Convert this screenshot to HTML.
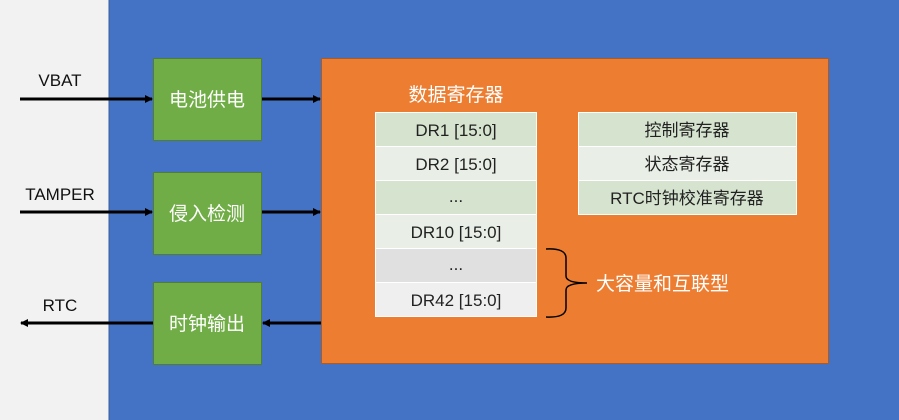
<!DOCTYPE html>
<html><head><meta charset="utf-8"><style>
html,body{margin:0;padding:0;width:899px;height:420px;overflow:hidden;background:#f2f2f2}
svg{display:block}
text{font-family:"Liberation Sans","Noto Sans CJK SC",sans-serif}
</style></head><body>
<svg width="899" height="420" xmlns="http://www.w3.org/2000/svg">
<defs>
<marker id="ar" markerWidth="8" markerHeight="8" refX="7" refY="4" orient="auto" markerUnits="userSpaceOnUse">
<path d="M0,0 L8,4 L0,8 z" fill="#000"/></marker>
</defs>
<rect x="0" y="0" width="899" height="420" fill="#f2f2f2"/>
<rect x="109" y="0" width="790" height="420" fill="#4472c4"/>
<line x1="109" y1="0" x2="109" y2="420" stroke="#3a5f9e" stroke-width="1"/>
<!-- green boxes -->
<g fill="#70ad47" stroke="#507e32" stroke-width="1">
<rect x="153.5" y="58.5" width="108" height="82"/>
<rect x="153.5" y="172.5" width="108" height="82"/>
<rect x="153.5" y="282.5" width="108" height="82"/>
</g>
<g fill="#fff" font-size="19" text-anchor="middle">
<text x="207" y="106">电池供电</text>
<text x="207" y="220">侵入检测</text>
<text x="207" y="330">时钟输出</text>
</g>
<!-- orange -->
<rect x="321.5" y="58.5" width="507" height="305" fill="#ed7d31" stroke="#ae5a21" stroke-width="1"/>
<!-- arrows -->
<g stroke="#000" stroke-width="3">
<line x1="20" y1="99" x2="152" y2="99" marker-end="url(#ar)"/>
<line x1="262" y1="99" x2="320" y2="99" marker-end="url(#ar)"/>
<line x1="20" y1="212" x2="152" y2="212" marker-end="url(#ar)"/>
<line x1="262" y1="212" x2="320" y2="212" marker-end="url(#ar)"/>
<line x1="153" y1="323" x2="21" y2="323" marker-end="url(#ar)"/>
<line x1="321" y1="323" x2="263" y2="323" marker-end="url(#ar)"/>
</g>
<g fill="#111" font-size="17" text-anchor="middle">
<text x="60" y="86">VBAT</text>
<text x="60" y="200">TAMPER</text>
<text x="60" y="311">RTC</text>
</g>
<text x="456" y="101" fill="#fff" font-size="19" text-anchor="middle">数据寄存器</text>
<!-- data table -->
<g stroke="#fff" stroke-width="1">
<rect x="375.5" y="112.5" width="161" height="34" fill="#d5e3cf"/>
<rect x="375.5" y="146.5" width="161" height="34" fill="#e9efe6"/>
<rect x="375.5" y="180.5" width="161" height="34" fill="#d5e3cf"/>
<rect x="375.5" y="214.5" width="161" height="34" fill="#e9efe6"/>
<rect x="375.5" y="248.5" width="161" height="34" fill="#e0e0e0"/>
<rect x="375.5" y="282.5" width="161" height="34" fill="#efefef"/>
<rect x="578.5" y="112.5" width="218" height="34" fill="#d5e3cf"/>
<rect x="578.5" y="146.5" width="218" height="34" fill="#e9efe6"/>
<rect x="578.5" y="180.5" width="218" height="34" fill="#d5e3cf"/>
</g>
<g fill="#222" font-size="17" text-anchor="middle">
<text x="456" y="136">DR1 [15:0]</text>
<text x="456" y="170">DR2 [15:0]</text>
<text x="456" y="202">...</text>
<text x="456" y="238">DR10 [15:0]</text>
<text x="456" y="270">...</text>
<text x="456" y="306">DR42 [15:0]</text>
<text x="687" y="136">控制寄存器</text>
<text x="687" y="170">状态寄存器</text>
<text x="687" y="204">RTC时钟校准寄存器</text>
</g>
<!-- brace -->
<path d="M546,249 Q566,248 566,258 L566,276 Q566,283 587,283 Q566,283 566,290 L566,308 Q566,318 546,317" fill="none" stroke="#000" stroke-width="1.5"/>
<text x="596" y="290" fill="#fff" font-size="19">大容量和互联型</text>
</svg>
</body></html>
